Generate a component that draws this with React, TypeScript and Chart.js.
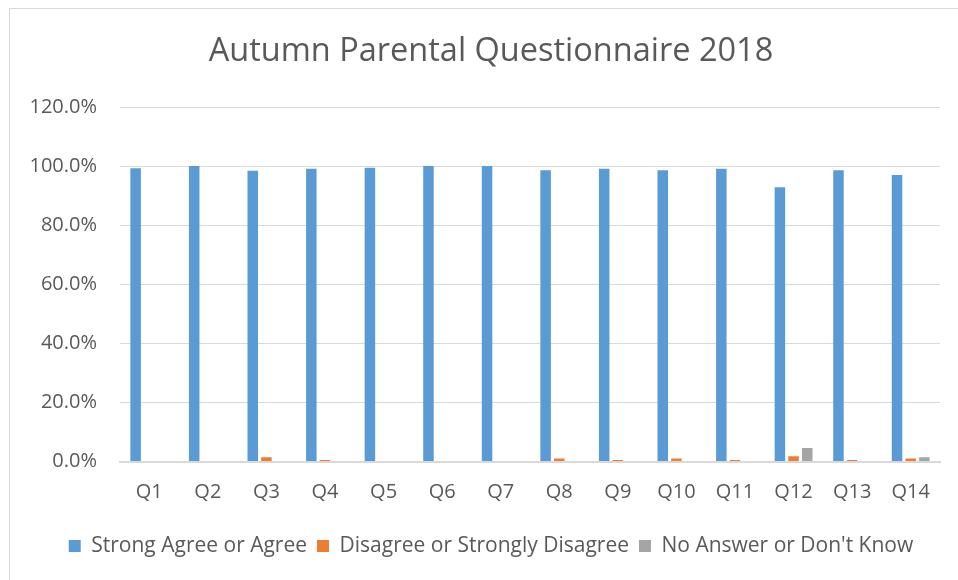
import React, { useEffect, useRef } from "react";
import { Chart, registerables } from "chart.js";

Chart.register(...registerables);

const categories = ["Q1", "Q2", "Q3", "Q4", "Q5", "Q6", "Q7", "Q8", "Q9", "Q10", "Q11", "Q12", "Q13", "Q14"];
const agree = [0.993, 1.0, 0.984, 0.991, 0.994, 1.0, 1.0, 0.986, 0.991, 0.986, 0.991, 0.928, 0.986, 0.97];
const disagree = [0.002, 0, 0.014, 0.005, 0.002, 0, 0, 0.01, 0.005, 0.01, 0.005, 0.018, 0.005, 0.01];
const noAnswer = [0, 0, 0, 0, 0, 0, 0, 0, 0, 0, 0, 0.046, 0.002, 0.014];
const seriesNames = ["Strong Agree or Agree", "Disagree or Strongly Disagree", "No Answer or Don't Know"];
const titleText = "Autumn Parental Questionnaire 2018";

const FONT = "'Open Sans', 'Noto Sans', sans-serif";
const TEXT = "#595959";

export default function App() {
  const ref = useRef<HTMLCanvasElement | null>(null);

  useEffect(() => {
    document.body.style.margin = "0";
    const canvas = ref.current;
    if (!canvas) return;
    const borderPlugin = {
      id: "frame",
      beforeDraw(chart: any) {
        const c = chart.ctx;
        c.save();
        c.fillStyle = "#ffffff";
        c.fillRect(0, 0, chart.width, chart.height);
        c.strokeStyle = "#d9d9d9";
        c.lineWidth = 1;
        c.strokeRect(9.5, 8.5, chart.width + 10, chart.height + 10);
        c.restore();
      },
    };
    const chart = new Chart(canvas, {
      type: "bar",
      data: {
        labels: categories,
        datasets: [
          { label: seriesNames[0], data: agree, backgroundColor: "#5B9BD5" },
          { label: seriesNames[1], data: disagree, backgroundColor: "#ED7D31" },
          { label: seriesNames[2], data: noAnswer, backgroundColor: "#A5A5A5" },
        ],
      },
      options: {
        animation: false,
        responsive: false,
        maintainAspectRatio: false,
        layout: { padding: { left: 24, right: 0, top: 0, bottom: 13.5 } },
        datasets: { bar: { categoryPercentage: 0.7, barPercentage: 0.77 } },
        plugins: {
          title: {
            display: true,
            text: titleText,
            color: TEXT,
            font: { family: FONT, size: 32.5, weight: "normal", lineHeight: 1.2 },
            padding: { top: 32, bottom: 36 },
          },
          legend: {
            position: "bottom",
            labels: {
              color: TEXT,
              font: { family: FONT, size: 21 },
              boxWidth: 12,
              boxHeight: 12,
              padding: 10,
            },
          },
          tooltip: { enabled: false },
        },
        scales: {
          x: {
            grid: { display: false, drawTicks: false },
            border: { color: "#d9d9d9", width: 2 },
            ticks: { color: TEXT, font: { family: FONT, size: 20 }, padding: 19 },
            afterFit(scale: any) {
              scale.height = 64;
            },
          },
          y: {
            min: 0,
            max: 1.2,
            grid: { color: "#d9d9d9", drawTicks: false },
            border: { display: false },
            ticks: {
              stepSize: 0.2,
              color: TEXT,
              font: { family: FONT, size: 20 },
              padding: 23,
              callback: (v: any) => (Number(v) * 100).toFixed(1) + "%",
            },
            afterFit(scale: any) {
              scale.width = 96;
            },
          },
          spacer: {
            type: "linear",
            position: "right",
            display: true,
            grid: { display: false, drawTicks: false },
            border: { display: false },
            ticks: { display: false },
            afterFit(scale: any) {
              scale.width = 18;
            },
          },
        },
      },
      plugins: [borderPlugin],
    });
    return () => chart.destroy();
  }, []);

  return (
    <div style={{ width: 958, height: 580 }}>
      <canvas ref={ref} width={958} height={580} style={{ width: 958, height: 580, display: "block" }} />
    </div>
  );
}
